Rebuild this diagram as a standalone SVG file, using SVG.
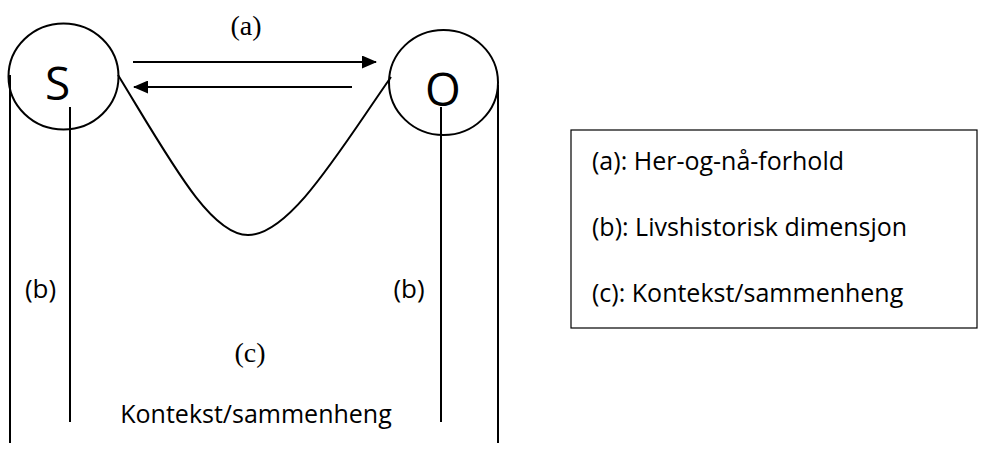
<svg xmlns="http://www.w3.org/2000/svg" width="985" height="450" viewBox="0 0 985 450">
<style>
.ln{fill:none;stroke:#000;stroke-width:2}
.sans{font-family:"Open Sans","Liberation Sans",sans-serif;fill:#000}
.serif{font-family:"Liberation Serif","Times New Roman",serif;fill:#000}
</style>
<defs>
<marker id="ah" markerWidth="15" markerHeight="13" refX="14" refY="6.5" orient="auto" markerUnits="userSpaceOnUse" viewBox="0 0 15 13">
<path d="M0,0 L15,6.5 L0,13 Z" fill="#000"/>
</marker>
</defs>
<rect width="985" height="450" fill="#fff"/>
<g id="node-S">
<ellipse class="ln" cx="63.5" cy="76.5" rx="55" ry="53"/>
<text class="sans" x="57.5" y="100" font-size="46" text-anchor="middle">S</text>
</g>
<g id="node-O">
<ellipse class="ln" cx="443.5" cy="82.5" rx="54.5" ry="52.5"/>
<text class="sans" x="443" y="106" font-size="46" text-anchor="middle">O</text>
</g>
<g id="connectors">
<line class="ln" x1="133" y1="62" x2="376" y2="62" marker-end="url(#ah)"/>
<line class="ln" x1="352" y1="87" x2="134" y2="87" marker-end="url(#ah)"/>
<path class="ln" d="M118,75 C170,160 210,235 248,235 C290,235 340,150 391,77"/>
<line class="ln" x1="10" y1="75" x2="10" y2="443"/>
<line class="ln" x1="70" y1="107" x2="70" y2="422"/>
<line class="ln" x1="441" y1="107" x2="441" y2="422"/>
<line class="ln" x1="498" y1="85" x2="498" y2="443"/>
</g>
<g id="labels">
<text class="serif" x="246" y="35" font-size="28" text-anchor="middle">(a)</text>
<text class="sans" x="40.5" y="298" font-size="26" text-anchor="middle">(b)</text>
<text class="sans" x="409" y="298" font-size="26" text-anchor="middle">(b)</text>
<text class="serif" x="250" y="362" font-size="28" text-anchor="middle">(c)</text>
<text class="sans" x="256" y="423" font-size="25" text-anchor="middle">Kontekst/sammenheng</text>
</g>
<g id="legend">
<rect x="571" y="130" width="406" height="198" fill="none" stroke="#000" stroke-width="1.2"/>
<text class="sans" x="592" y="170" font-size="25">(a): Her-og-nå-forhold</text>
<text class="sans" x="592" y="236" font-size="25">(b): Livshistorisk dimensjon</text>
<text class="sans" x="592" y="302" font-size="25">(c): Kontekst/sammenheng</text>
</g>
</svg>
